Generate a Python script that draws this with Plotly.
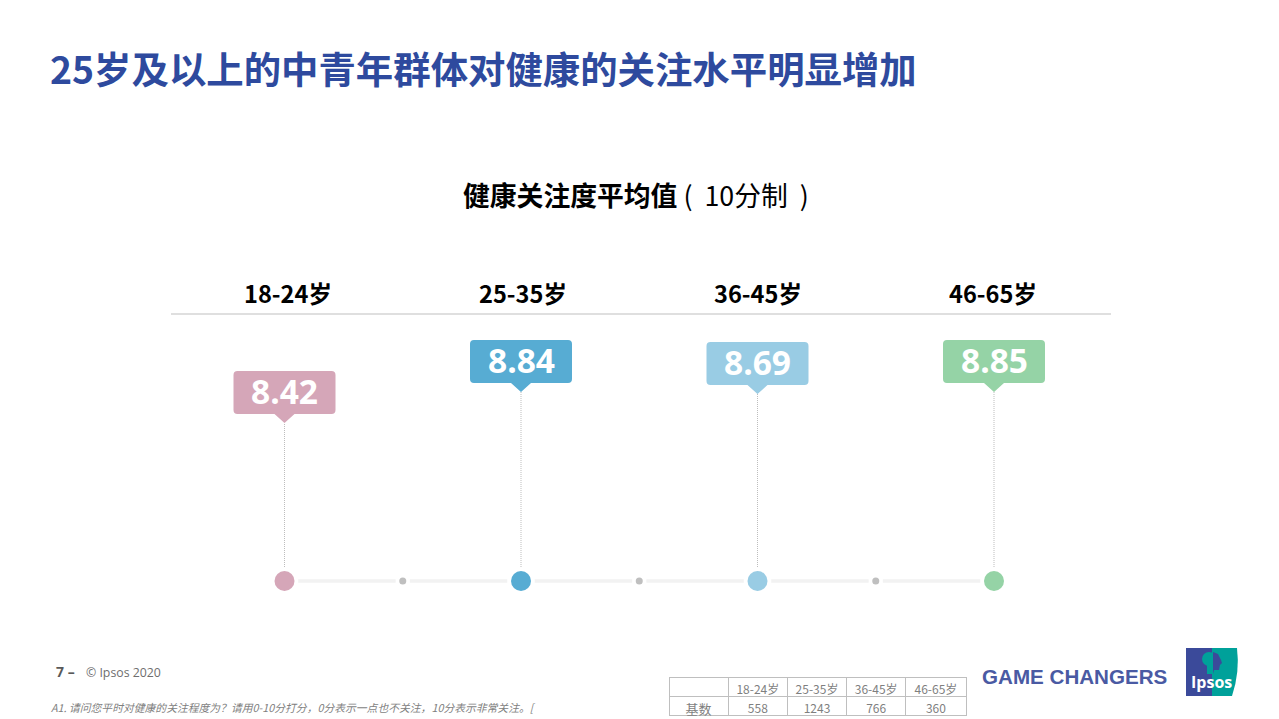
import plotly.graph_objects as go

# データ
age_groups = ['18-24岁', '25-35岁', '36-45岁', '46-65岁']
mean_scores = [8.42, 8.84, 8.69, 8.85]
stem_heights = [158, 189, 187, 189]  # heights as drawn in the picture, not to scale with the score
base_counts = [558, 1243, 766, 360]
group_colors = ['#D5A6B8', '#57ACD3', '#99CCE4', '#95D3A6']

title_text = '25岁及以上的中青年群体对健康的关注水平明显增加'
subtitle_text = '<b>健康关注度平均值</b>\u00a0(\u00a0\u00a010分制\u00a0\u00a0)'
note_text = 'A1. 请问您平时对健康的关注程度为？请用0-10分打分，0分表示一点也不关注，10分表示非常关注。['

# ページの body に 8px の余白が付くので、その分だけ小さく作る
PAGE_W, PAGE_H = 1279, 719
OFFSET = 8
W, H = PAGE_W - OFFSET, PAGE_H - OFFSET
CJK = 'Noto Sans CJK SC'
index = list(range(len(age_groups)))


def px(x):
    return (x - OFFSET) / W


def py(y):
    return 1 - (y - OFFSET) / H


def text(x, y, s, size, color, anchor='left', family=CJK):
    fig.add_annotation(
        x=px(x), y=py(y), xref='paper', yref='paper', text=s, showarrow=False,
        xanchor=anchor, yanchor='middle',
        font=dict(family=family, size=size, color=color),
    )


fig = go.Figure()

# 下のタイムライン
for i in index[:-1]:
    for start, end in [(i + 0.058, i + 0.47), (i + 0.53, i + 0.942)]:
        fig.add_trace(go.Scatter(
            x=[start, end], y=[0, 0], mode='lines',
            line=dict(color='#F2F2F2', width=3.5),
            showlegend=False, hoverinfo='skip',
        ))
fig.add_trace(go.Scatter(
    x=[i + 0.5 for i in index[:-1]], y=[0] * (len(index) - 1), mode='markers',
    marker=dict(color='#BFBFBF', size=7),
    showlegend=False, hoverinfo='skip',
))

# 縦線と丸
for i in index:
    fig.add_trace(go.Scatter(
        x=[i, i], y=[14, stem_heights[i]], mode='lines',
        line=dict(color='#BDBDBD', width=1, dash='1px 1px'),
        showlegend=False, hoverinfo='skip',
    ))
fig.add_trace(go.Scatter(
    x=index, y=[0] * len(index), mode='markers',
    marker=dict(color=group_colors, size=20),
    showlegend=False, hoverinfo='skip',
))

# 吹き出し
callout = ('M 0 0 L -10 9 L -47 9 Q -51 9 -51 13 L -51 48 Q -51 52 -47 52 '
           'L 47 52 Q 51 52 51 48 L 51 13 Q 51 9 47 9 L 10 9 Z')
for i in index:
    fig.add_shape(
        type='path', path=callout, xref='x', yref='y',
        xsizemode='pixel', ysizemode='pixel', xanchor=i, yanchor=stem_heights[i],
        fillcolor=group_colors[i], line_width=0,
    )
    fig.add_annotation(
        x=i, y=stem_heights[i], xref='x', yref='y', text=f'<b>{mean_scores[i]:.2f}</b>',
        showarrow=False, yshift=32, yanchor='middle',
        font=dict(family='Open Sans', size=33.5, color='white'),
    )

# 見出し
text(48, 68, f'<b>{title_text}</b>', 37.4, '#2E4A9E')
text(635.5, 194, subtitle_text, 26.8, 'black', anchor='center')
for i, label in enumerate(age_groups):
    text(288 + 235 * i, 293, f'<b>{label}</b>', 23.6, 'black', anchor='center')
fig.add_shape(type='line', xref='paper', yref='paper',
              x0=px(171), x1=px(1111), y0=py(314), y1=py(314),
              line=dict(color='#BFBFBF', width=1.2))

# フッター
text(54, 671, '<b>7 –</b>', 14, '#595959', family='Open Sans')
text(84, 672, '© Ipsos 2020', 12.3, '#6E6E6E', family='Open Sans')
text(49, 707, f'<i>{note_text}</i>', 10.8, '#7F7F7F')
text(980, 676, '<b>GAME CHANGERS</b>', 20.6, '#4A5AA3', family='Liberation Sans')

# 基数の表
fig.add_trace(go.Table(
    domain=dict(x=[px(669), px(966)], y=[py(716), py(677)]),
    columnwidth=[59, 59, 59, 59, 60],
    header=dict(
        values=[''] + age_groups, height=19,
        align='center', line=dict(color='#BFBFBF', width=1), fill_color='white',
        font=dict(family=CJK, size=12, color='#7F7F7F'),
    ),
    cells=dict(
        values=[['基数']] + [[n] for n in base_counts], height=19,
        align='center', line=dict(color='#BFBFBF', width=1), fill_color='white',
        font=dict(family=CJK, size=[13, 12, 12, 12, 12], color='#7F7F7F'),
    ),
))

# ロゴ
def logo_path(points):
    return 'M ' + ' L '.join(f'{px(x)} {py(y)}' for x, y in points) + ' Z'


fig.add_shape(type='path', xref='paper', yref='paper', fillcolor='#3B4A9A', line_width=0,
              path=logo_path([(1186, 648), (1214, 648), (1214, 696), (1186, 696)]))
fig.add_shape(type='path', xref='paper', yref='paper', fillcolor='#00A19A', line_width=0,
              path=f'M {px(1212)} {py(648)} L {px(1237)} {py(648)} '
                   f'Q {px(1240)} {py(672)} {px(1232)} {py(696)} L {px(1212)} {py(696)} Z')
fig.add_shape(type='circle', xref='paper', yref='paper', fillcolor='#00A19A', line_width=0,
              x0=px(1202), x1=px(1216), y0=py(666), y1=py(652))
fig.add_shape(type='path', xref='paper', yref='paper', fillcolor='#3B4A9A', line_width=0,
              path=logo_path([(1213, 652), (1218, 654), (1221, 660), (1222, 663), (1220, 665),
                              (1219, 670), (1214, 670), (1213, 674)]))
fig.add_shape(type='path', xref='paper', yref='paper', fillcolor='#00A19A', line_width=0,
              path=logo_path([(1207, 664), (1213, 664), (1213, 674), (1207, 674)]))
text(1211, 682, '<b>Ipsos</b>', 16, 'white', anchor='center', family='Open Sans')

fig.update_xaxes(range=[(OFFSET - 284.5) / 236.5, (PAGE_W - 284.5) / 236.5], visible=False, fixedrange=True)
fig.update_yaxes(range=[-138, 581 - OFFSET], visible=False, fixedrange=True)
fig.update_layout(
    width=W, height=H, margin=dict(l=0, r=0, t=0, b=0),
    paper_bgcolor='white', plot_bgcolor='white', showlegend=False,
    font=dict(family=CJK),
)

fig.write_html("out.html")
